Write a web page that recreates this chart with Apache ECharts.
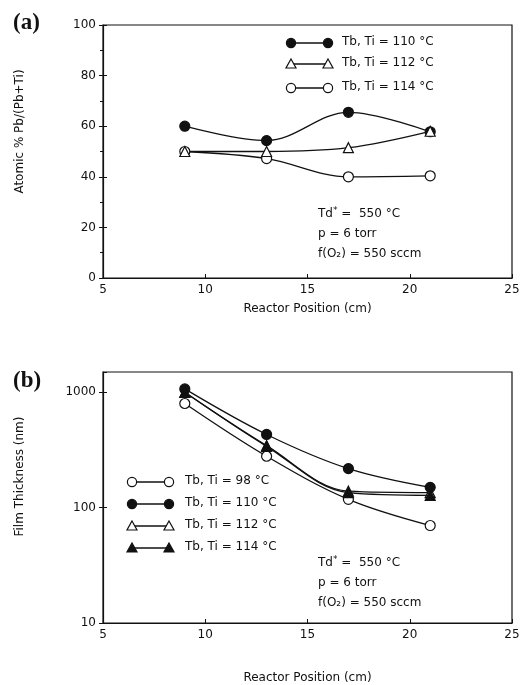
<!DOCTYPE html>
<html>
<head>
<meta charset="utf-8">
<script src="https://cdn.jsdelivr.net/npm/echarts@6/dist/echarts.min.js"></script>
<style>
  html, body { margin: 0; padding: 0; background: #fff; }
  #main { width: 525px; height: 685px; }
</style>
</head>
<body>
<div id="main"></div>
<script>
// reactor positions (cm)
var xPos = [9, 13, 17, 21];

// (a) atomic % Pb/(Pb+Ti)
var pbTi110 = [60, 54.3, 65.5, 57.8];
var pbTi112 = [50, 50, 51.5, 58];
var pbTi114 = [50, 47.2, 40, 40.4];

// (b) film thickness (nm)
var thick98 = [800, 279, 118, 70];
var thick110 = [1070, 431, 218, 150];
var thick112 = [1000, 345, 139, 135];
var thick114 = [1000, 340, 135, 128];

var labelsA = ['Tb, Ti = 110 °C', 'Tb, Ti = 112 °C', 'Tb, Ti = 114 °C'];
var labelsB = ['Tb, Ti = 98 °C', 'Tb, Ti = 110 °C', 'Tb, Ti = 112 °C', 'Tb, Ti = 114 °C'];

var font = 'DejaVu Sans';
var txt = { fontFamily: font, fontSize: 12, color: '#111' };

function pairs(vals) {
    return xPos.map(function (x, i) { return [x, vals[i]]; });
}

function mkSeries(name, vals, sym, filled, gi) {
    return {
        name: name,
        type: 'line',
        xAxisIndex: gi,
        yAxisIndex: gi * 2,
        data: pairs(vals),
        smooth: 0.35,
        symbol: sym,
        symbolSize: 10,
        showSymbol: true,
        lineStyle: { color: '#111', width: 1.3 },
        itemStyle: { color: filled ? '#111' : '#fff', borderColor: '#111', borderWidth: 1.2 },
        animation: false,
        z: 3
    };
}

// legend drawn as marker -- line -- marker
function legendRow(x1, x2, tx, y, sym, filled, label) {
    var st = { fill: filled ? '#111' : '#fff', stroke: '#111', lineWidth: 1.2 };
    var els = [{
        type: 'line', shape: { x1: x1, y1: y, x2: x2, y2: y },
        style: { stroke: '#111', lineWidth: 1.3 }
    }];
    [x1, x2].forEach(function (cx) {
        if (sym == 'circle') {
            els.push({ type: 'circle', shape: { cx: cx, cy: y, r: 4.6 }, style: st, z: 10 });
        } else {
            els.push({ type: 'polygon', shape: { points: [[cx, y - 5], [cx + 5, y + 4], [cx - 5, y + 4]] }, style: st, z: 10 });
        }
    });
    els.push({
        type: 'text', left: tx, top: y - 7,
        style: { text: label, font: '12px "' + font + '"', fill: '#111' }
    });
    return els;
}

function note(x, y) {
    return [
        { type: 'text', left: x, top: y - 7,
          style: { text: 'Td{s|*} =  550 °C', font: '12px "' + font + '"', fill: '#111',
                   rich: { s: { fontSize: 9, fontFamily: font, padding: [0, 0, 6, 0] } } } },
        { type: 'text', left: x, top: y + 15,
          style: { text: 'p = 6 torr', font: '12px "' + font + '"', fill: '#111' } },
        { type: 'text', left: x, top: y + 35,
          style: { text: 'f(O₂) = 550 sccm', font: '12px "' + font + '"', fill: '#111' } }
    ];
}

function xAx(gi, gap) {
    return {
        type: 'value', gridIndex: gi, min: 5, max: 25, interval: 5,
        name: 'Reactor Position (cm)', nameLocation: 'middle', nameGap: gap,
        nameTextStyle: txt,
        axisLine: { lineStyle: { color: '#111', width: 1.2 } },
        axisTick: { inside: true, length: 4, lineStyle: { color: '#111' } },
        axisLabel: { color: '#111', fontFamily: font, fontSize: 12, margin: 6 },
        splitLine: { show: false }
    };
}

var graphics = [
    { type: 'text', left: 13, top: 12, style: { text: '(a)', font: 'bold 23px "Liberation Serif"', fill: '#111' } },
    { type: 'text', left: 13, top: 370, style: { text: '(b)', font: 'bold 23px "Liberation Serif"', fill: '#111' } }
];
graphics = graphics
    .concat(legendRow(291, 328, 342, 43, 'circle', true, labelsA[0]))
    .concat(legendRow(291, 328, 342, 64, 'triangle', false, labelsA[1]))
    .concat(legendRow(291, 328, 342, 88, 'circle', false, labelsA[2]))
    .concat(legendRow(132, 169, 185, 482, 'circle', false, labelsB[0]))
    .concat(legendRow(132, 169, 185, 504, 'circle', true, labelsB[1]))
    .concat(legendRow(132, 169, 185, 526, 'triangle', false, labelsB[2]))
    .concat(legendRow(132, 169, 185, 548, 'triangle', true, labelsB[3]))
    .concat(note(318, 213))
    .concat(note(318, 562));

var myChart = echarts.init(document.getElementById('main'));

var option = {
    backgroundColor: '#fff',
    animation: false,
    grid: [
        { left: 103, top: 25, width: 409, height: 253, show: true, borderColor: '#111', borderWidth: 1.2 },
        { left: 103, top: 372, width: 409, height: 254, show: true, borderColor: '#111', borderWidth: 1.2 }
    ],
    xAxis: [xAx(0, 25), xAx(1, 49)],
    yAxis: [
        {
            type: 'value', gridIndex: 0, min: 0, max: 100, interval: 20,
            name: 'Atomic % Pb/(Pb+Ti)', nameLocation: 'middle', nameGap: 77,
            nameTextStyle: Object.assign({ padding: [0, 0, 0, 40] }, txt),
            axisLine: { lineStyle: { color: '#111', width: 1.2 } },
            axisTick: { length: 4, lineStyle: { color: '#111' } },
            minorTick: { show: true, splitNumber: 2, length: 3, lineStyle: { color: '#111' } },
            axisLabel: { color: '#111', fontFamily: font, fontSize: 12, margin: 7 },
            splitLine: { show: false }
        },
        {
            type: 'value', gridIndex: 0, min: 0, max: 100, interval: 20, position: 'left', offset: 0,
            axisLine: { show: false },
            axisTick: { inside: true, length: 4, lineStyle: { color: '#111' } },
            axisLabel: { show: false }, splitLine: { show: false }
        },
        {
            type: 'log', gridIndex: 1, min: 10, max: 1500, logBase: 10,
            name: 'Film Thickness (nm)', nameLocation: 'middle', nameGap: 77,
            nameTextStyle: Object.assign({ padding: [0, 0, 0, 42] }, txt),
            axisLine: { lineStyle: { color: '#111', width: 1.2 } },
            axisTick: { length: 4, lineStyle: { color: '#111' } },
            axisLabel: {
                color: '#111', fontFamily: font, fontSize: 12, margin: 7, showMaxLabel: false,
                formatter: function (v) {
                    var r = Math.round(v);
                    return (r == 10 || r == 100 || r == 1000) ? String(r) : '';
                }
            },
            splitLine: { show: false }
        },
        {
            type: 'log', gridIndex: 1, min: 10, max: 1500, logBase: 10, position: 'left', offset: 0,
            axisLine: { show: false },
            axisTick: { inside: true, length: 4, lineStyle: { color: '#111' } },
            axisLabel: { show: false }, splitLine: { show: false }
        }
    ],
    series: [
        mkSeries(labelsA[0], pbTi110, 'circle', true, 0),
        mkSeries(labelsA[2], pbTi114, 'circle', false, 0),
        mkSeries(labelsA[1], pbTi112, 'triangle', false, 0),
        mkSeries(labelsB[0], thick98, 'circle', false, 1),
        mkSeries(labelsB[2], thick112, 'triangle', false, 1),
        mkSeries(labelsB[3], thick114, 'triangle', true, 1),
        mkSeries(labelsB[1], thick110, 'circle', true, 1)
    ],
    graphic: graphics
};
myChart.setOption(option);
</script>
</body>
</html>
